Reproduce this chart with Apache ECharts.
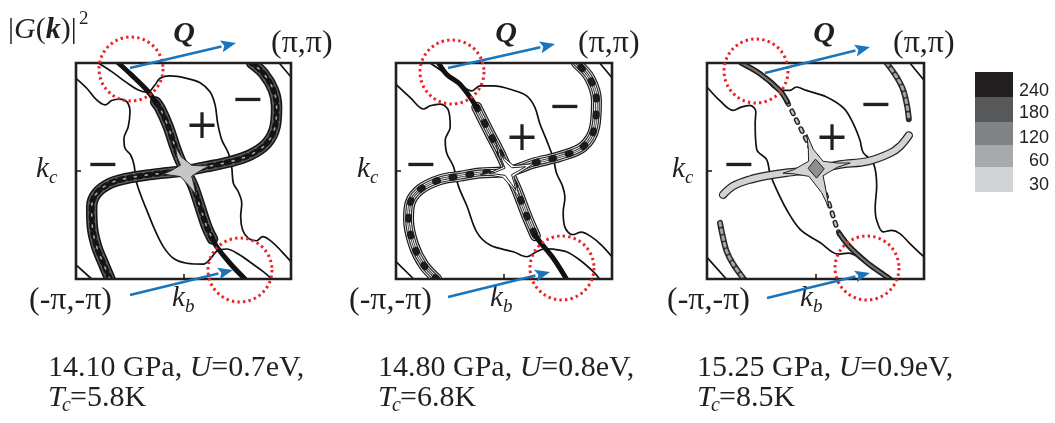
<!DOCTYPE html>
<html>
<head>
<meta charset="utf-8">
<script src="https://cdn.jsdelivr.net/npm/echarts/dist/echarts.min.js"></script>
<style>
html,body{margin:0;padding:0;background:#fff}
#chart{width:1055px;height:423px}
</style>
</head>
<body>
<div id="chart"></div>
<script>
// Brillouin-zone coordinates: 0 = -π, 1 = +π along k_b (x) and k_c (y)

// colour-scale levels of |G(k)|^2
const levels = [240, 180, 120, 60, 30];
const levelGrays = ['#231f20', '#58595b', '#808285', '#a7a9ac', '#d1d3d4'];

// run parameters, one entry per panel
const pressures = ['14.10', '14.80', '15.25'];
const couplings = ['0.7', '0.8', '0.9'];
const tcValues = ['5.8', '6.8', '8.5'];

// ---- panel 1 : 14.10 GPa ----
const p1BandAUpper = [[0.197,1],[0.259,0.944],[0.329,0.875],[0.37,0.82]];
const p1BandAMiddle = [[0.37,0.82],[0.391,0.79],[0.429,0.705],[0.46,0.613],[0.484,0.551],[0.512,0.497],[0.546,0.427],[0.577,0.335],[0.608,0.242],[0.635,0.185]];
const p1BandALower = [[0.635,0.185],[0.654,0.15],[0.716,0.073],[0.786,0]];
const p1BandB = [[0.158,0],[0.127,0.073],[0.096,0.15],[0.076,0.242],[0.073,0.335],[0.096,0.397],[0.158,0.443],[0.236,0.466],[0.329,0.481],[0.422,0.492],[0.512,0.502],[0.608,0.52],[0.716,0.543],[0.809,0.574],[0.887,0.628],[0.926,0.705],[0.933,0.798],[0.918,0.875],[0.872,0.952],[0.817,1]];
const p1Core = [[0.462,0.615],[0.49,0.565],[0.538,0.527],[0.585,0.524],[0.622,0.524],[0.585,0.506],[0.538,0.476],[0.55,0.43],[0.558,0.39],[0.527,0.43],[0.486,0.474],[0.44,0.481],[0.405,0.485],[0.44,0.5],[0.486,0.527],[0.47,0.565]];
const p1SheetLeft = [[0,0.929],[0.05,0.883],[0.096,0.829],[0.135,0.806],[0.166,0.826],[0.202,0.833],[0.236,0.821],[0.251,0.775],[0.243,0.705],[0.223,0.651],[0.228,0.605],[0.254,0.574],[0.27,0.528],[0.279,0.458],[0.298,0.397],[0.329,0.319],[0.367,0.227],[0.406,0.15],[0.453,0.096],[0.515,0.073],[0.592,0.069],[0.623,0.091],[0.657,0.131],[0.701,0.139],[0.755,0.116],[0.817,0.073],[0.871,0.034],[0.91,0]];
const p1SheetRight = [[0.104,1],[0.166,0.96],[0.236,0.909],[0.29,0.875],[0.332,0.864],[0.367,0.898],[0.391,0.929],[0.437,0.94],[0.515,0.929],[0.577,0.909],[0.623,0.867],[0.647,0.806],[0.659,0.721],[0.678,0.644],[0.709,0.582],[0.724,0.52],[0.732,0.443],[0.755,0.404],[0.771,0.35],[0.766,0.289],[0.775,0.227],[0.802,0.188],[0.84,0.177],[0.868,0.196],[0.91,0.173],[0.957,0.127],[1,0.08]];
const p1CornerTR = [[0.945,1],[1,0.935]];
const p1CornerBL = [[0,0.065],[0.073,0]];

// ---- panel 2 : 14.80 GPa ----
const p2BandAUpper = [[0.197,1],[0.235,0.947],[0.297,0.901],[0.374,0.795]];
const p2BandAMiddle = [[0.374,0.795],[0.435,0.673],[0.482,0.582],[0.52,0.498],[0.558,0.415],[0.605,0.293],[0.645,0.2]];
const p2BandALower = [[0.645,0.2],[0.666,0.172],[0.728,0.096],[0.789,0]];
const p2BandB = [[0.189,0],[0.128,0.065],[0.082,0.157],[0.058,0.278],[0.066,0.354],[0.112,0.415],[0.205,0.46],[0.297,0.476],[0.389,0.491],[0.52,0.498],[0.635,0.536],[0.758,0.567],[0.866,0.612],[0.92,0.704],[0.928,0.825],[0.897,0.93],[0.835,1]];
const p2CoreOuter = [[0.46,0.64],[0.49,0.57],[0.545,0.525],[0.6,0.53],[0.64,0.535],[0.6,0.51],[0.545,0.475],[0.56,0.42],[0.575,0.37],[0.54,0.42],[0.495,0.47],[0.44,0.48],[0.39,0.482],[0.44,0.494],[0.497,0.52],[0.477,0.57]];
const p2CoreInner = [[0.48,0.59],[0.5,0.55],[0.535,0.515],[0.58,0.518],[0.6,0.52],[0.58,0.508],[0.535,0.483],[0.548,0.44],[0.555,0.41],[0.535,0.44],[0.505,0.48],[0.46,0.486],[0.43,0.488],[0.46,0.494],[0.505,0.513],[0.49,0.55]];
const p2SheetLeft = [[0,0.901],[0.066,0.84],[0.128,0.787],[0.158,0.802],[0.205,0.81],[0.243,0.78],[0.251,0.704],[0.228,0.643],[0.235,0.582],[0.266,0.521],[0.289,0.43],[0.328,0.339],[0.374,0.217],[0.435,0.157],[0.543,0.126],[0.605,0.103],[0.651,0.126],[0.69,0.14],[0.728,0.138],[0.789,0.126],[0.851,0.088],[0.912,0.035],[0.943,0]];
const p2SheetRight = [[0.158,1],[0.235,0.947],[0.297,0.901],[0.351,0.871],[0.389,0.894],[0.451,0.894],[0.543,0.874],[0.605,0.848],[0.643,0.795],[0.666,0.719],[0.697,0.643],[0.728,0.559],[0.743,0.491],[0.771,0.43],[0.782,0.377],[0.774,0.309],[0.782,0.24],[0.817,0.205],[0.858,0.217],[0.905,0.195],[0.951,0.157],[1,0.103]];
const p2CornerTR = [[0.943,1],[1,0.932]];
const p2CornerBL = [[0,0.08],[0.082,0]];

// ---- panel 3 : 15.25 GPa ----
const p3BandAUpper = [[0.158,1],[0.243,0.951],[0.335,0.873],[0.37,0.82]];
const p3BandADotted = [[0.37,0.82],[0.4,0.76],[0.428,0.704],[0.455,0.65],[0.474,0.611],[0.505,0.511],[0.53,0.44],[0.551,0.38],[0.575,0.31],[0.597,0.241],[0.61,0.21]];
const p3BandALower = [[0.61,0.21],[0.659,0.147],[0.736,0.077],[0.797,0.032],[0.843,0]];
const p3BandB = [[0.074,0.39],[0.12,0.43],[0.197,0.46],[0.275,0.478],[0.366,0.492],[0.502,0.507],[0.612,0.53],[0.74,0.545],[0.843,0.582],[0.889,0.614],[0.93,0.665]];
const p3FragUR = [[0.828,1],[0.874,0.935],[0.905,0.873],[0.923,0.796],[0.93,0.74]];
const p3FragLL = [[0.06,0.26],[0.072,0.2],[0.09,0.13],[0.12,0.07],[0.17,0]];
const p3Core = [[0.46,0.67],[0.49,0.6],[0.535,0.545],[0.6,0.537],[0.66,0.537],[0.6,0.517],[0.535,0.478],[0.55,0.4],[0.562,0.33],[0.528,0.4],[0.47,0.475],[0.4,0.487],[0.35,0.49],[0.4,0.506],[0.468,0.545],[0.467,0.6]];
const p3Peak = [[0.5,0.555],[0.54,0.51],[0.505,0.467],[0.466,0.512]];
const p3SheetLeft = [[0,0.889],[0.058,0.827],[0.12,0.781],[0.158,0.796],[0.197,0.804],[0.225,0.775],[0.222,0.72],[0.229,0.6],[0.275,0.553],[0.29,0.49],[0.32,0.415],[0.366,0.323],[0.429,0.23],[0.521,0.169],[0.605,0.115],[0.65,0.12],[0.72,0.09],[0.79,0.04],[0.83,0]];
const p3SheetRight = [[0.182,1],[0.258,0.935],[0.335,0.873],[0.382,0.873],[0.412,0.889],[0.458,0.873],[0.551,0.843],[0.631,0.79],[0.674,0.719],[0.705,0.642],[0.72,0.585],[0.766,0.539],[0.782,0.43],[0.775,0.33],[0.782,0.272],[0.812,0.218],[0.851,0.225],[0.889,0.21],[0.935,0.164],[1,0.102]];
const p3CornerTR = [[0.935,1],[1,0.92]];
const p3CornerBL = [[0,0.1],[0.089,0]];

// ---------------- layout ----------------
const boxes = [
  {left: 76, top: 63, width: 215, height: 216},
  {left: 396, top: 63, width: 216, height: 216},
  {left: 707, top: 63, width: 217, height: 216}
];
const INK = '#231f20';
const SERIF = '"Liberation Serif", "Times New Roman", serif';

const grid = boxes.map(b => ({left: b.left, top: b.top, width: b.width, height: b.height, show: false}));
const tickAxis = (gi, pos) => ({
  type: 'value', gridIndex: gi, position: pos, min: 0, max: 1, interval: 0.5,
  axisLine: {show: false},
  axisTick: {show: true, inside: true, length: 5, lineStyle: {color: INK, width: 1.6}},
  axisLabel: {show: false}, splitLine: {show: false}
});
const xAxis = [], yAxis = [];
boxes.forEach((b, i) => {
  xAxis.push(tickAxis(i, 'bottom'), tickAxis(i, 'top'));
  yAxis.push(tickAxis(i, 'left'), tickAxis(i, 'right'));
});

const series = [];
function stroke(gi, pts, layers, smooth) {
  layers.forEach(l => series.push({
    type: 'line', xAxisIndex: 2 * gi, yAxisIndex: 2 * gi, data: pts,
    smooth: smooth === undefined ? 0.35 : smooth, symbol: 'none', showSymbol: false,
    silent: true, animation: false,
    lineStyle: {width: l.w, color: l.c, type: l.dash || 'solid', cap: l.cap || 'round', join: 'round'}
  }));
}
// filled regions (peak plateaus) are placed through the grid's own scale once the chart exists
const patches = [];
const patch = (gi, pts, fill, edge) => patches.push({gi, pts, fill, edge});

const thin = [{w: 1.7, c: '#111'}];
const denseBand = [{w: 11.5, c: '#161616'}, {w: 8.4, c: '#5e5e5e'}, {w: 6, c: '#141414', dash: [4, 5]}, {w: 1.6, c: '#a8a8a8', dash: [2, 9]}];
const fineBand = [{w: 11, c: '#1b1b1b'}, {w: 8.6, c: '#e2e2e2'}, {w: 6.8, c: '#2a2a2a'}, {w: 4.6, c: '#eeeeee'}, {w: 2.6, c: '#333'}, {w: 1, c: '#f2f2f2'}, {w: 7, c: '#1b1b1b', dash: [2, 15]}];
const solidEnd = [{w: 5, c: '#111'}];
const fragment = [{w: 6, c: '#2a2a2a'}, {w: 3, c: '#a5a5a5', dash: [3, 4]}];

// panel 1
stroke(0, p1SheetLeft, thin); stroke(0, p1SheetRight, thin);
stroke(0, p1CornerTR, thin, 0); stroke(0, p1CornerBL, thin, 0);
stroke(0, p1BandB, denseBand);
stroke(0, p1BandAMiddle, denseBand);
stroke(0, p1BandAUpper, solidEnd); stroke(0, p1BandALower, solidEnd);
patch(0, p1Core, '#c6c6c6', '#2a2a2a');

// panel 2
stroke(1, p2SheetLeft, thin); stroke(1, p2SheetRight, thin);
stroke(1, p2CornerTR, thin, 0); stroke(1, p2CornerBL, thin, 0);
stroke(1, p2BandB, fineBand);
stroke(1, p2BandAMiddle, fineBand);
stroke(1, p2BandAUpper, solidEnd); stroke(1, p2BandALower, solidEnd);
patch(1, p2CoreOuter, '#ffffff', '#222');
patch(1, p2CoreInner, 'rgba(0,0,0,0)', '#222');

// panel 3
stroke(2, p3SheetLeft, thin); stroke(2, p3SheetRight, thin);
stroke(2, p3CornerTR, thin, 0); stroke(2, p3CornerBL, thin, 0);
stroke(2, p3FragUR, fragment);
stroke(2, p3FragLL, fragment);
stroke(2, p3BandADotted, [{w: 5, c: '#222', dash: [3, 7]}, {w: 2.2, c: '#c4c4c4', dash: [3, 7]}]);
stroke(2, p3BandAUpper, [{w: 5.5, c: '#1e1e1e'}, {w: 2, c: '#777'}]);
stroke(2, p3BandALower, [{w: 5.5, c: '#1e1e1e'}, {w: 2, c: '#777'}]);
stroke(2, p3BandB, [{w: 8.4, c: '#222'}, {w: 6, c: levelGrays[4]}]);
patch(2, p3Core, levelGrays[4], '#222');
patch(2, p3Peak, '#8e8f91', '#222');

// ---------------- annotations ----------------
const g = [];
// white margins around each zone box keep thick bands inside the frame
boxes.forEach(b => {
  const m = 14, L = b.left, T = b.top, R = b.left + b.width, B = b.top + b.height;
  g.push({type: 'rect', z: 100, shape: {x: L - m, y: T - m, width: m - 1, height: b.height + 2 * m}, style: {fill: '#fff'}});
  g.push({type: 'rect', z: 100, shape: {x: R + 1, y: T - m, width: m, height: b.height + 2 * m}, style: {fill: '#fff'}});
  g.push({type: 'rect', z: 100, shape: {x: L - m, y: T - m, width: b.width + 2 * m, height: m - 1}, style: {fill: '#fff'}});
  g.push({type: 'rect', z: 100, shape: {x: L - m, y: B + 1, width: b.width + 2 * m, height: m}, style: {fill: '#fff'}});
  g.push({type: 'rect', z: 150, shape: {x: L, y: T, width: b.width, height: b.height}, style: {fill: null, stroke: INK, lineWidth: 2.6}});
});

const txt = (x, y, text, font, extra) => g.push({
  type: 'text', x: x, y: y, z: 200,
  style: Object.assign({text: text, font: font, fill: INK, align: 'left', verticalAlign: 'middle'}, extra || {})
});

function arrow(x1, y1, x2, y2) {
  const a = Math.atan2(y2 - y1, x2 - x1), len = 15, half = 6;
  const bx = x2 - len * Math.cos(a), by = y2 - len * Math.sin(a);
  g.push({type: 'line', z: 210, shape: {x1: x1, y1: y1, x2: bx, y2: by}, style: {stroke: '#1b75bc', lineWidth: 2.6}});
  g.push({type: 'polygon', z: 210, shape: {points: [[x2, y2],
    [bx - half * Math.sin(a), by + half * Math.cos(a)],
    [bx + 3 * Math.cos(a), by + 3 * Math.sin(a)],
    [bx + half * Math.sin(a), by - half * Math.cos(a)]]}, style: {fill: '#1b75bc'}});
}
const ring = (cx, cy) => g.push({type: 'circle', z: 205, shape: {cx: cx, cy: cy, r: 32},
  style: {fill: null, stroke: '#ec2227', lineWidth: 3, lineDash: [2.4, 3.2]}});

const panelText = [
  {q: 184, pp: 271, mm: 29, kc: 36, kb: 172, cap: 48, top: [131, 69], bot: [240, 270],
   aTop: [130, 68, 236, 43], aBot: [130, 295, 233, 270], minusL: [103, 167], minusR: [248, 102], plus: [202, 128]},
  {q: 506, pp: 578, mm: 349, kc: 357, kb: 490, cap: 378, top: [452, 72], bot: [562, 268],
   aTop: [448, 68, 555, 44], aBot: [448, 297, 550, 272], minusL: [421, 167], minusR: [565, 109], plus: [522, 140]},
  {q: 824, pp: 893, mm: 667, kc: 672, kb: 800, cap: 697, top: [756, 71], bot: [867, 268],
   aTop: [765, 73, 870, 47], aBot: [767, 298, 870, 273], minusL: [739, 167], minusR: [876, 107], plus: [832, 140]}
];

const italic = {fontFamily: SERIF, fontSize: 30, fontStyle: 'italic', fill: INK};
panelText.forEach((p, i) => {
  ring(p.top[0], p.top[1]); ring(p.bot[0], p.bot[1]);
  arrow.apply(null, p.aTop); arrow.apply(null, p.aBot);
  txt(p.q, 34, 'Q', 'italic bold 30px ' + SERIF, {align: 'center'});
  txt(p.pp, 44, '(π,π)', '32px ' + SERIF);
  txt(p.mm, 301, '(-π,-π)', '32px ' + SERIF);
  txt(p.kc, 169, 'k', 'italic 29px ' + SERIF);
  txt(p.kc + 13, 178, 'c', 'italic 19px ' + SERIF);
  txt(p.kb, 298, 'k', 'italic 29px ' + SERIF);
  txt(p.kb + 13, 307, 'b', 'italic 19px ' + SERIF);
  txt(p.minusL[0], p.minusL[1], '−', '40px "DejaVu Sans"', {align: 'center'});
  txt(p.minusR[0], p.minusR[1], '−', '40px "DejaVu Sans"', {align: 'center'});
  txt(p.plus[0], p.plus[1], '+', '40px "DejaVu Sans"', {align: 'center'});
  txt(p.cap, 368, pressures[i] + ' GPa, {i|U}=' + couplings[i] + 'eV,', '30px ' + SERIF, {rich: {i: italic}});
  txt(p.cap, 398, 'T', 'italic 30px ' + SERIF);
  txt(p.cap + 14, 406, 'c', 'italic 20px ' + SERIF);
  txt(p.cap + 22, 398, '=' + tcValues[i] + 'K', '30px ' + SERIF);
});

// |G(k)|^2 label
txt(8, 30, '|{i|G}({b|k})|', '30px ' + SERIF, {rich: {
  i: {fontFamily: SERIF, fontSize: 30, fontStyle: 'italic', fill: INK},
  b: {fontFamily: SERIF, fontSize: 30, fontStyle: 'italic', fontWeight: 'bold', fill: INK}
}});
txt(79, 19, '2', '19px ' + SERIF);

// colour scale
const barTop = [72, 97, 122, 145, 167, 192];
const labelY = [91, 113, 138, 161, 185];
levels.forEach((v, k) => {
  g.push({type: 'rect', z: 200, shape: {x: 975, y: barTop[k], width: 38, height: barTop[k + 1] - barTop[k]}, style: {fill: levelGrays[k]}});
  txt(1049, labelY[k], String(v), '18px "Liberation Sans", Arial, sans-serif', {align: 'right'});
});

const chart = echarts.init(document.getElementById('chart'), null, {renderer: 'canvas'});
chart.setOption({animation: false, grid, xAxis, yAxis, series, graphic: {elements: g}});

const patchEls = patches.map(p => ({
  type: 'polygon', z: 50,
  shape: {points: p.pts.map(pt => chart.convertToPixel({xAxisIndex: 2 * p.gi, yAxisIndex: 2 * p.gi}, pt))},
  style: {fill: p.fill, stroke: p.edge, lineWidth: 1, lineJoin: 'round'}
}));
chart.setOption({graphic: {elements: g.concat(patchEls)}});
</script>
</body>
</html>
